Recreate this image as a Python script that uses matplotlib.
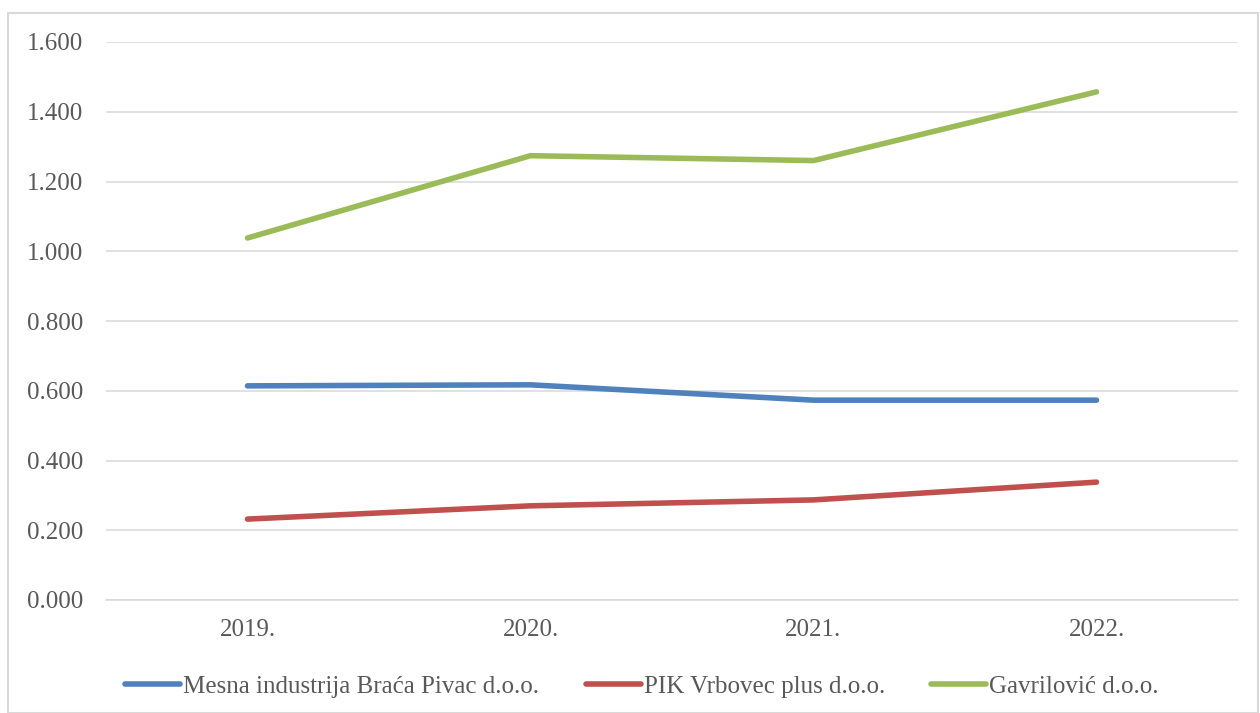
import matplotlib
matplotlib.use('Agg')
import matplotlib.pyplot as plt
from matplotlib.patches import Rectangle

years = ['2019.', '2020.', '2021.', '2022.']
pivac = [0.614, 0.617, 0.573, 0.573]
pik = [0.232, 0.270, 0.287, 0.338]
gavrilovic = [1.038, 1.274, 1.260, 1.457]

names = ['Mesna industrija Braća Pivac d.o.o.', 'PIK Vrbovec plus d.o.o.', 'Gavrilović d.o.o.']
colors = ['#4F81BD', '#C0504D', '#9BBB59']
y_ticks = [0.0, 0.2, 0.4, 0.6, 0.8, 1.0, 1.2, 1.4, 1.6]

plt.rcParams['font.family'] = ['Liberation Serif', 'DejaVu Serif']

fig = plt.figure(figsize=(12.6, 7.13), dpi=100)
fig.patches.append(Rectangle((8 / 1260, 0), 1 - 10 / 1260, 1 - 13 / 713,
                             transform=fig.transFigure, fill=False,
                             edgecolor='#D9D9D9', linewidth=1.5))
ax = fig.add_axes([106 / 1260, 1 - 600 / 713, 1132 / 1260, 558 / 713])

x = range(len(years))
for series, name, c in zip([pivac, pik, gavrilovic], names, colors):
    ax.plot(x, series, color=c, linewidth=4, label=name,
            solid_capstyle='round', solid_joinstyle='round', zorder=3)

ax.set_xlim(-0.5, len(years) - 0.5)
ax.set_ylim(0, 1.6)
ax.set_yticks(y_ticks)
ax.set_yticklabels(['{:.3f}'.format(v) for v in y_ticks])
ax.set_xticks(list(x))
ax.set_xticklabels(years)
ax.grid(axis='y', color='#D9D9D9', linewidth=1.1)
ax.set_axisbelow(True)
for s in ['top', 'right', 'left']:
    ax.spines[s].set_visible(False)
ax.spines['bottom'].set_color('#D9D9D9')
ax.spines['bottom'].set_linewidth(1.1)
ax.tick_params(length=0, labelsize=18, colors='#595959')
ax.tick_params(axis='y', pad=16.5)
ax.tick_params(axis='x', pad=14)

fig.legend(loc='center', bbox_to_anchor=(0.5095, 0.037), ncol=3, frameon=False,
           fontsize=18, labelcolor='#595959', handlelength=2.2,
           handletextpad=0.12, columnspacing=1.85)

fig.savefig('out.png', dpi=100)
